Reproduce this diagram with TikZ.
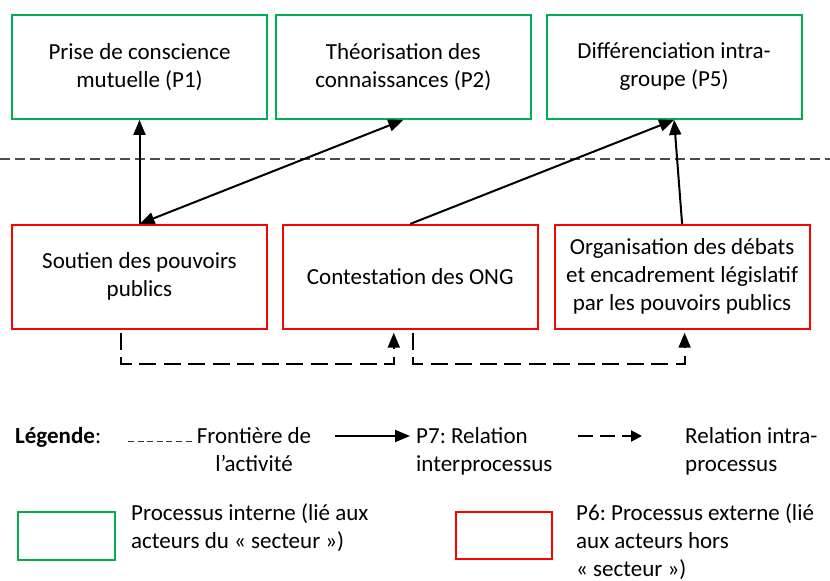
\documentclass[tikz,border=0pt]{standalone}
\usepackage{fontspec}
\setmainfont{Carlito}
\usepackage{tikz}
\usetikzlibrary{positioning, arrows.meta}
\definecolor{procgreen}{RGB}{0,176,80}
\definecolor{procred}{RGB}{255,0,0}
\frenchspacing

\begin{document}
\begin{tikzpicture}[
  x=1pt, y=1pt,
  font=\fontsize{23}{28}\selectfont,
  >={Triangle[length=15pt, width=12pt]},
  internal/.style={
    rectangle,
    draw=procgreen,
    line width=1.8pt,
    minimum width=255pt,
    minimum height=104pt,
    align=center
  },
  external/.style={
    rectangle,
    draw=procred,
    line width=1.8pt,
    minimum width=255pt,
    minimum height=104pt,
    align=center
  },
  legtext/.style={anchor=base west, align=left, inner sep=0pt},
  inter/.style={->, line width=2pt},
  intra/.style={->, line width=2pt, dash pattern=on 17pt off 7.5pt},
  intrakey/.style={-{Triangle[length=11pt, width=11pt]}, line width=2.2pt, dash pattern=on 15pt off 7pt},
  boundary/.style={draw=black!70, line width=1.1pt, dash pattern=on 10pt off 5pt},
  frontier/.style={draw=black!80, line width=0.9pt, dash pattern=on 6pt off 3.6pt}
]
  \useasboundingbox (0,0) rectangle (830,-581);

  % Boundary of the activity
  \coordinate (bl) at (0,-159);
  \coordinate (br) at (830,-159);
  \draw [boundary] (bl) -- (br);

  % Nodes
  \node (p1) [internal] at (139.5,-67)  {Prise de conscience\\mutuelle (P1)};
  \node (p2) [internal, right=7pt of p1]  {Théorisation des\\connaissances (P2)};
  \node (p5) [internal, right=14pt of p2] {Différenciation intra-\\groupe (P5)};

  \node (s1) [external, below=104pt of p1] {Soutien des pouvoirs\\publics};
  \node (s2) [external, right=14pt of s1]  {Contestation des ONG};
  \node (s3) [external, right=15pt of s2]  {Organisation des débats\\et encadrement législatif\\par les pouvoirs publics};

  % Arrows
  \draw [inter] (s1.north) -- (p1.south);
  \draw [inter, <->] (s1.north) -- (p2.south);
  \draw [inter] (s2.north) -- (p5.south);
  \draw [inter] (s3.north) -- (p5.south);

  \draw [intra] ([xshift=-18.5pt, yshift=-3pt]s1.south) -- ++(0,-31) -| ([xshift=-16.5pt, yshift=-3pt]s2.south);
  \draw [intra] ([xshift=2.5pt, yshift=-3pt]s2.south) -- ++(0,-31) -| ([xshift=2.5pt, yshift=-3pt]s3.south);

  % Legend
  \node (legend) [legtext] at (15,-443) {\textbf{Légende}:};
  \coordinate (fl) at (128,-441);
  \coordinate (fr) at (195,-441);
  \draw [frontier] (fl) -- (fr);
  \node (legfront) [anchor=base, align=center, inner sep=0pt] at (254,-471) {Frontière de\\l’activité};

  \coordinate (ial) at (335,-436);
  \coordinate (iar) at (410,-436);
  \draw [inter] (ial) -- (iar);
  \node (leginter) [legtext] at (416,-471) {P7: Relation\\interprocessus};

  \coordinate (dal) at (578,-436);
  \coordinate (dar) at (642,-436);
  \draw [intrakey] (dal) -- (dar);
  \node (legintra) [legtext] at (685,-471) {Relation intra-\\processus};

  \node (boxint) [internal, minimum width=97pt, minimum height=48pt] at (66.5,-536) {};
  \node (legint) [legtext] at (131,-548) {Processus interne (lié aux\\acteurs du « secteur »)};

  \node (boxext) [external, minimum width=96pt, minimum height=47pt] at (504,-535.5) {};
  \node (legext) [legtext] at (576,-576) {P6: Processus externe (lié\\aux acteurs hors\\« secteur »)};

\end{tikzpicture}
\end{document}
